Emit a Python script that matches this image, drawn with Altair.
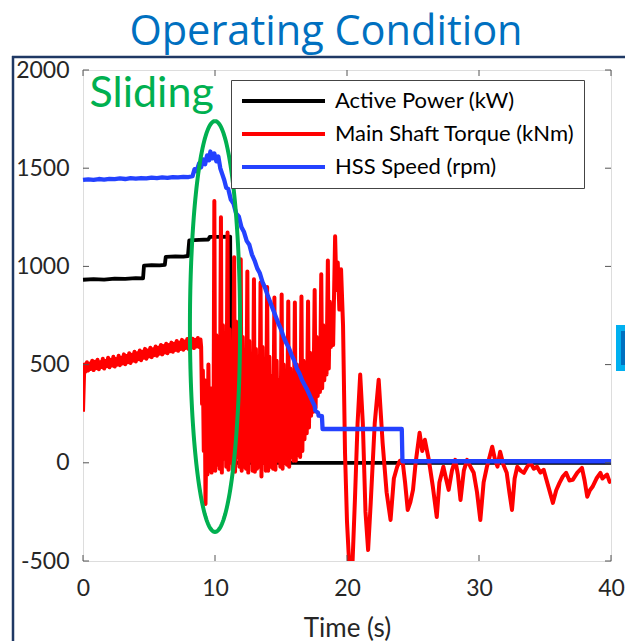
import altair as alt
import numpy as np
import pandas as pd

# ---------------- data ----------------
series_names = ["Active Power (kW)", "Main Shaft Torque (kNm)", "HSS Speed (rpm)"]
series_colors = ["#000000", "#FF0000", "#2442FF"]

x_ticks = [0, 10, 20, 30, 40]
y_ticks = [-500, 0, 500, 1000, 1500, 2000]

# Active power (kW)
power_t = [0, 0.8, 1.6, 2.4, 3.2, 4.0, 4.55, 4.62, 5.2, 5.8, 6.2, 6.27, 7.0, 7.6, 7.95,
           8.05, 8.8, 9.5, 9.6, 10.3, 11.15, 11.2, 11.35, 11.45, 15, 20, 25, 30, 35, 40]
power_v = [932, 935, 933, 938, 936, 940, 939, 1004, 1006, 1005, 1008, 1049, 1051, 1050, 1053,
           1132, 1135, 1137, 1150, 1150, 1152, 420, 380, 0, 0, 0, 0, 0, 0, 0]

# Main shaft torque (kNm) - pre-slip noisy band, sampled every 0.1 s from t = 0
torque_pre_v = [260,
                500, 465, 512, 470, 505, 478, 520, 472, 515,
                482, 525, 476, 512, 488, 530, 480, 518, 492, 535,
                486, 524, 495, 540, 490, 528, 500, 545, 497, 535,
                506, 552, 502, 544, 512, 558, 508, 550, 520, 565,
                516, 558, 528, 572, 522, 565, 535, 580, 530, 572,
                542, 586, 538, 578, 548, 592, 545, 586, 556, 600,
                552, 594, 562, 606, 558, 600, 568, 612, 565, 606,
                575, 620, 570, 612, 580, 626, 576, 618, 585, 630,
                580, 622, 588, 632, 584, 626, 592, 635, 590, 628]
# sliding / oscillation and decay
torque_t = [8.95, 9.02, 9.08, 9.15, 9.22, 9.28, 9.36, 9.43, 9.50, 9.58, 9.66, 9.74, 9.82, 9.88,
            9.95, 10.02, 10.10, 10.18, 10.26, 10.35,
            10.45, 10.52, 10.60, 10.68, 10.76, 10.85,
            10.95, 11.02, 11.10, 11.18, 11.26, 11.35,
            11.45, 11.52, 11.60, 11.68, 11.76, 11.85,
            11.95, 12.02, 12.10, 12.18, 12.26, 12.35,
            12.45, 12.52, 12.60, 12.68, 12.76, 12.85,
            12.95, 13.02, 13.10, 13.18, 13.26, 13.35,
            13.45, 13.52, 13.60, 13.68, 13.76, 13.85,
            13.95, 14.03, 14.12, 14.21, 14.30, 14.40,
            14.50, 14.58, 14.67, 14.76, 14.85, 14.95,
            15.05, 15.12, 15.20, 15.28, 15.36, 15.45,
            15.55, 15.62, 15.70, 15.78, 15.86, 15.95,
            16.05, 16.12, 16.20, 16.28, 16.36, 16.45,
            16.55, 16.62, 16.70, 16.78, 16.86, 16.95,
            17.05, 17.12, 17.20, 17.28, 17.36, 17.45,
            17.55, 17.62, 17.70, 17.78, 17.86, 17.95,
            18.05, 18.12, 18.20, 18.28, 18.36, 18.45,
            18.55, 18.62, 18.70, 18.78, 18.86, 18.95,
            19.10, 19.20, 19.30, 19.42, 19.55, 19.70, 19.85, 20.0, 20.2, 20.4, 20.6,
            20.8, 21.0, 21.2, 21.4, 21.6, 21.8, 22.1, 22.4, 22.7, 23.0, 23.3, 23.55,
            23.8, 24.0, 24.2, 24.4, 24.6, 24.8, 25.0, 25.2, 25.5, 25.7, 25.9, 26.2,
            26.5, 26.8, 27.0, 27.3, 27.5, 27.7, 27.95, 28.2, 28.4, 28.6, 28.85, 29.1,
            29.35, 29.6, 29.85, 30.1, 30.35, 30.6, 30.8, 31.0, 31.2, 31.4, 31.6, 31.85,
            32.1, 32.3, 32.5, 32.7, 32.9, 33.15, 33.4, 33.65, 33.9, 34.15, 34.4, 34.65,
            34.9, 35.25, 35.6, 35.85, 36.1, 36.35, 36.6, 36.85, 37.1, 37.45, 37.8, 38.0,
            38.2, 38.4, 38.6, 38.9, 39.2, 39.35, 39.5, 39.7, 39.9, 40.0]
torque_v = [590, 300, 470, 60, 420, -210, 200, -60, 500, -40, 380, -50, 300, -30,
            1333, -40, 650, -10, 520, -30,
            1250, -50, 700, 20, 560, -20,
            1173, -35, 680, 0, 600, -40,
            1046, -45, 720, 30, 560, -20,
            1036, -40, 640, -20, 540, -30,
            974, -50, 620, 10, 500, -40,
            934, -45, 580, -30, 480, -20,
            918, -70, 590, 0, 460, -40,
            895, -40, 540, -20, 440, -30,
            842, -35, 520, 10, 420, -20,
            857, -30, 500, 0, 420, -10,
            821, -20, 480, 30, 400, 10,
            816, 10, 500, 40, 430, 30,
            847, 60, 520, 120, 460, 150,
            821, 180, 560, 240, 500, 260,
            880, 280, 640, 340, 560, 360,
            960, 380, 700, 420, 620, 450,
            1030, 480, 820, 590, 750, 600,
            1153, 880, 1020, 780, 985, 700, 50, -300, -560, -540, -189,
            200, 449, 200, -250, -444, -200, 200, 423, 100, -150, -291, -80,
            -20, 10, 15, -100, -240, -200, -138, 0, 153, 60, 117, 15,
            -120, -276, -100, -20, -80, -138, -40, 15, -60, -189, -40, 15,
            -20, -51, -150, -291, -100, -20, 30, 82, 20, -20, 56, -10,
            -51, -150, -240, -80, -20, -40, -51, -20, 0, -30, -20, -50,
            -36, -120, -204, -140, -102, -70, -51, -90, -87, -50, -26, -90,
            -173, -140, -122, -80, -51, -80, -71, -60, -97, -85]

# HSS speed (rpm)
speed_t = [0, 0.4, 0.8, 1.2, 1.6, 2.0, 2.4, 2.8, 3.2, 3.6, 4.0, 4.4, 4.8, 5.2, 5.6, 6.0,
           6.4, 6.8, 7.2, 7.6, 8.0, 8.3, 8.45, 8.6, 8.8, 8.95, 9.1, 9.25, 9.4, 9.55, 9.65,
           9.8, 9.95, 10.1, 10.25, 10.4, 10.55, 10.7, 10.85, 11.0, 11.2, 11.4, 11.6, 11.8,
           12.0, 12.2, 12.4, 12.6, 12.8, 13.0, 13.2, 13.4, 13.6, 13.8, 14.0, 14.2, 14.4,
           14.6, 14.8, 15.0, 15.2, 15.4, 15.6, 15.8, 16.0, 16.2, 16.4, 16.6, 16.8, 17.0,
           17.2, 17.4, 17.55, 17.6, 17.8, 17.85, 18.1, 18.15, 24.15, 24.2, 40]
speed_v = [1440, 1443, 1441, 1445, 1442, 1446, 1444, 1448, 1445, 1449, 1447, 1450, 1448,
           1452, 1450, 1453, 1451, 1455, 1453, 1456, 1455, 1460, 1495, 1485, 1525, 1505,
           1545, 1520, 1565, 1540, 1585, 1550, 1575, 1535, 1560, 1500, 1470, 1440, 1400,
           1395, 1340, 1320, 1270, 1255, 1200, 1175, 1130, 1110, 1060, 1030, 990, 965, 920,
           890, 850, 815, 780, 745, 710, 680, 640, 610, 585, 550, 520, 480, 455, 420, 395,
           370, 340, 310, 290, 265, 255, 240, 238, 172, 172, 8, 8]

# "Sliding" annotation ellipse (centre / half-axes in data units)
ell_cx, ell_cy, ell_rx, ell_ry = 10.0, 694, 1.9, 1046

# ---------------- build tables ----------------
pre_t = np.round(np.arange(len(torque_pre_v)) * 0.1, 2)
df_power = pd.DataFrame({"t": power_t, "v": power_v, "series": series_names[0]})
df_torque = pd.DataFrame({"t": list(pre_t) + torque_t, "v": torque_pre_v + torque_v,
                          "series": series_names[1]})
df_speed = pd.DataFrame({"t": speed_t, "v": speed_v, "series": series_names[2]})
for d in (df_power, df_torque, df_speed):
    d["i"] = range(len(d))

ang = np.linspace(0, 2 * np.pi, 181)
df_ell = pd.DataFrame({"t": ell_cx + ell_rx * np.sin(ang), "v": ell_cy + ell_ry * np.cos(ang),
                       "i": range(len(ang))})

FONT = "Lato"
TXT = "#262626"
W, H = 528, 491

xscale = alt.Scale(domain=[0, 40], nice=False, zero=False)
yscale = alt.Scale(domain=[-500, 2000], nice=False, zero=False)
cscale = alt.Scale(domain=series_names, range=series_colors)

plain_num = "datum.value < 0 ? '-' + format(-datum.value, 'd') : format(datum.value, 'd')"

xaxis = alt.Axis(values=x_ticks, ticks=False, domain=False, grid=False, labelFlush=False,
                 labelFontSize=23, labelFont=FONT, labelColor=TXT, labelPadding=16,
                 labelExpr=plain_num,
                 title="Time (s)", titleFontSize=26, titleFont=FONT, titleColor=TXT,
                 titleFontWeight="normal", titlePadding=15)
yaxis = alt.Axis(values=y_ticks, ticks=False, domain=False, grid=False, labelFlush=False,
                 labelFontSize=23, labelFont=FONT, labelColor=TXT, labelPadding=14,
                 labelOverlap=False, labelExpr=plain_num, title=None)

legend = alt.Legend(title=None, orient="none", legendX=148, legendY=10, direction="vertical",
                    symbolType="stroke", symbolSize=6889, symbolStrokeWidth=4,
                    labelFontSize=22, labelFont=FONT, labelColor="#000000", labelLimit=400,
                    strokeColor="#444444", fillColor="white", padding=9, rowPadding=9,
                    clipHeight=24, labelOffset=8)


def series_layer(df, width, clip=False):
    return alt.Chart(df).mark_line(strokeWidth=width, clip=clip, strokeJoin="round").encode(
        x=alt.X("t:Q", scale=xscale, axis=xaxis),
        y=alt.Y("v:Q", scale=yscale, axis=yaxis),
        color=alt.Color("series:N", scale=cscale, legend=legend),
        order="i:Q",
    )


power = series_layer(df_power, 3.8)
torque = series_layer(df_torque, 4, clip=True)
speed = series_layer(df_speed, 4.3)

ellipse = alt.Chart(df_ell).mark_line(color="#00B050", strokeWidth=4).encode(
    x=alt.X("t:Q", scale=xscale), y=alt.Y("v:Q", scale=yscale), order="i:Q")

sliding = alt.Chart(pd.DataFrame({"t": [0.5], "v": [1810], "txt": ["Sliding"]})).mark_text(
    align="left", baseline="alphabetic", fontSize=43, font=FONT, color="#00B050").encode(
    x=alt.X("t:Q", scale=xscale), y=alt.Y("v:Q", scale=yscale), text="txt:N")

# inward ticks
tick_col = "#555555"
df_yt = pd.DataFrame({"v": y_ticks})
df_xt = pd.DataFrame({"t": x_ticks})
yt_left = alt.Chart(df_yt).mark_rule(color=tick_col, strokeWidth=1).encode(
    y=alt.Y("v:Q", scale=yscale), x=alt.value(0), x2=alt.value(6))
yt_right = alt.Chart(df_yt).mark_rule(color=tick_col, strokeWidth=1).encode(
    y=alt.Y("v:Q", scale=yscale), x=alt.value(W - 6), x2=alt.value(W))
xt_bot = alt.Chart(df_xt).mark_rule(color=tick_col, strokeWidth=1).encode(
    x=alt.X("t:Q", scale=xscale), y=alt.value(H - 6), y2=alt.value(H))
xt_top = alt.Chart(df_xt).mark_rule(color=tick_col, strokeWidth=1).encode(
    x=alt.X("t:Q", scale=xscale), y=alt.value(0), y2=alt.value(6))

# slide decorations (frame lines and cut-off button at right edge)
one = pd.DataFrame({"k": [0]})
frame_h = alt.Chart(one).mark_rule(color="#1F3864", strokeWidth=2.5).encode(
    x=alt.value(-71), x2=alt.value(545), y=alt.value(-13))
frame_v = alt.Chart(one).mark_rule(color="#1F3864", strokeWidth=2.5).encode(
    x=alt.value(-70), y=alt.value(-14), y2=alt.value(575))
btn_outer = alt.Chart(one).mark_rect(color="#00B0F0").encode(
    x=alt.value(533), x2=alt.value(548), y=alt.value(255), y2=alt.value(301))
btn_inner = alt.Chart(one).mark_rect(color="#0070C0").encode(
    x=alt.value(538), x2=alt.value(548), y=alt.value(261), y2=alt.value(295))

chart = alt.layer(
    frame_h, frame_v, btn_outer, btn_inner,
    power, torque, speed, ellipse, sliding,
    yt_left, yt_right, xt_bot, xt_top,
).properties(
    width=W, height=H,
    title=alt.TitleParams("Operating Condition", fontSize=41.5, font="Open Sans", color="#0070C0",
                          fontWeight="normal", anchor="middle", dx=-21, offset=1),
    autosize=alt.AutoSizeParams(type="none"),
    padding={"left": 83, "top": 70, "right": 14, "bottom": 80},
).configure_view(stroke="#262626", strokeWidth=1.2).configure(background="white")

chart.save("out.html", embed_options={"renderer": "svg", "actions": False})
